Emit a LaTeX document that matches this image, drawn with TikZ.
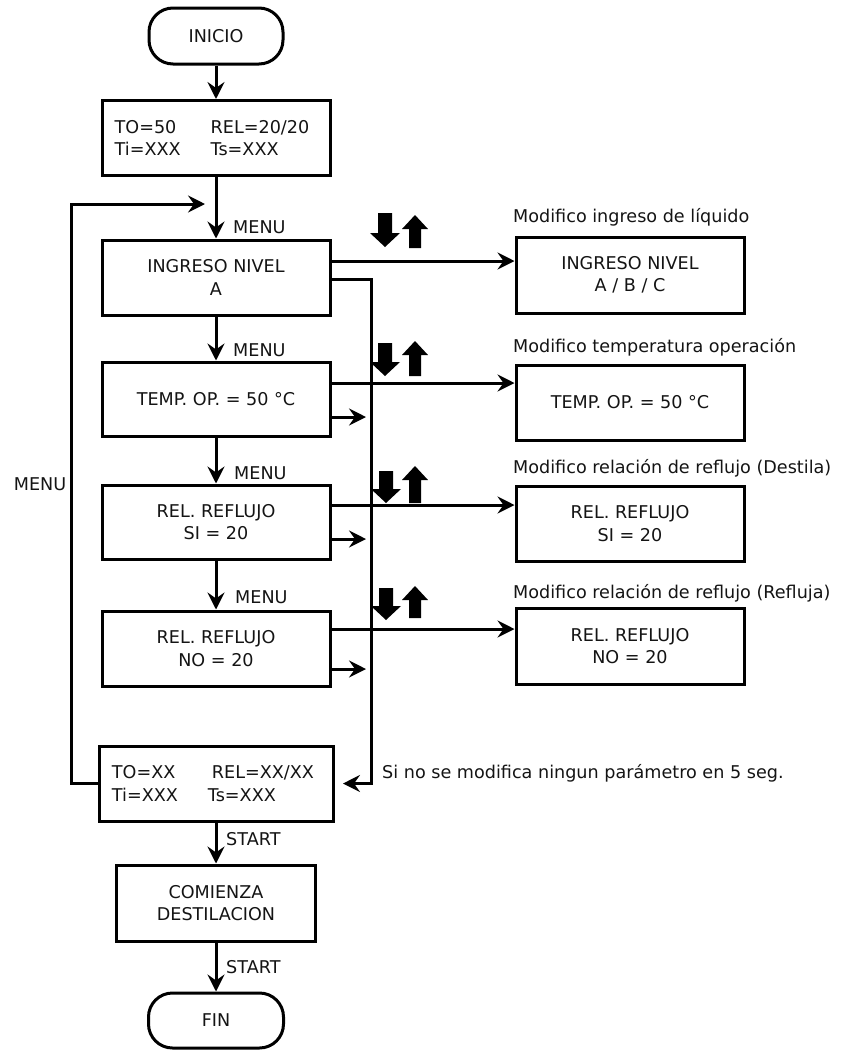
\documentclass[tikz,border=0pt]{standalone}
\usepackage{fontspec}
\setmainfont{DejaVu Sans}
\usetikzlibrary{arrows.meta,calc}
\newcommand{\blkdown}[3]{\fill[black] ({#1-7},#2) -- ({#1+7},#2) -- ({#1+7},{#3-14}) -- ({#1+15},{#3-14}) -- (#1,#3) -- ({#1-15},{#3-14}) -- ({#1-7},{#3-14}) -- cycle;}
\newcommand{\blkup}[3]{\fill[black] (#1,#2) -- ({#1+13},{#2+14}) -- ({#1+6},{#2+14}) -- ({#1+6},#3) -- ({#1-6},#3) -- ({#1-6},{#2+14}) -- ({#1-13},{#2+14}) -- cycle;}
\begin{document}
\begin{tikzpicture}[x=1pt,y=-1pt,
  every node/.style={font=\fontsize{17.6}{22.5}\selectfont, text=black!92},
  box/.style={draw=black, line width=3pt, minimum width=228pt, minimum height=75pt, align=center, inner sep=0pt},
  term/.style={draw=black, line width=3pt, rounded corners=24pt, minimum width=134pt, minimum height=56pt, inner sep=0pt},
  conn/.style={draw=black, line width=3pt, -{Stealth[length=17pt,width=17pt,inset=6pt]}},
  lbl/.style={anchor=base west, inner sep=0pt},
  caplbl/.style={anchor=west, inner sep=0pt},
]
\useasboundingbox (0,0) rectangle (842,1050);

% left column
\node[term] (inicio) at (216,36) {INICIO};
\node[box, align=left] (b1) at (216,138) {\makebox[96pt][l]{TO=50}REL=20/20\hspace*{8pt}\\\makebox[96pt][l]{Ti=XXX}Ts=XXX};
\node[box] (ing) at (216,277.5) {INGRESO NIVEL\\A};
\node[box, minimum height=74pt] (temp) at (216,399) {TEMP. OP. = 50 °C};
\node[box, minimum height=74pt] (si) at (216,522) {REL. REFLUJO\\SI = 20};
\node[box] (no) at (216,648.5) {REL. REFLUJO\\NO = 20};
\node[box, minimum width=234pt, align=left] (ult) at (216,783.5) {\makebox[100pt][l]{TO=XX}REL=XX/XX\hspace*{6pt}\\\makebox[96pt][l]{Ti=XXX}Ts=XXX};
\node[box, minimum width=199pt, minimum height=76pt] (com) at (216,903) {COMIENZA\\DESTILACION};
\node[term, minimum width=135pt, minimum height=55pt] (fin) at (216,1020.5) {FIN};

% right column
\node[box, minimum height=76pt] (ing2) at (630,275) {INGRESO NIVEL\\A / B / C};
\node[box] (temp2) at (630,402.5) {TEMP. OP. = 50 °C};
\node[box] (si2) at (630,523.5) {REL. REFLUJO\\SI = 20};
\node[box, minimum height=76pt] (no2) at (630,646) {REL. REFLUJO\\NO = 20};

% labels
\node[caplbl] (m1) at (233,227) {MENU};
\node[caplbl] (m2) at (233,350) {MENU};
\node[caplbl] (m3) at (234,473) {MENU};
\node[caplbl] (m4) at (235,597) {MENU};
\node (m0) at (40,484) {MENU};
\node[caplbl] (s1) at (226,839) {START};
\node[caplbl] (s2) at (226,967) {START};
\node[lbl] (t1) at (513,222) {Modifico ingreso de líquido};
\node[lbl] (t2) at (513,352) {Modifico temperatura operación};
\node[lbl] (t3) at (513,473) {Modifico relación de reflujo (Destila)};
\node[lbl] (t4) at (513,598) {Modifico relación de reflujo (Refluja)};
\node[lbl] (t5) at (382,778) {Si no se modifica ningun parámetro en 5 seg.};

% main flow
\draw[conn] (inicio.south) -- (b1.north);
\draw[conn] (b1.south) -- (ing.north);
\draw[conn] (ing.south) -- (temp.north);
\draw[conn] (temp.south) -- (si.north);
\draw[conn] (si.south) -- (no.north);
\draw[conn] (ult.south) -- (com.north);
\draw[conn] (com.south) -- (fin.north);

% loop back (MENU)
\coordinate (loopL) at (71,0);
\coordinate (loopTip) at (205,204);
\draw[conn] (ult.west) -- (ult.west -| loopL) |- (loopTip);

% to modification boxes
\coordinate (y1) at (0,261);
\coordinate (y2) at (0,383);
\coordinate (y3) at (0,505);
\coordinate (y4) at (0,629);
\draw[conn] (ing.east |- y1) -- (ing2.west |- y1);
\draw[conn] (temp.east |- y2) -- (temp2.west |- y2);
\draw[conn] (si.east |- y3) -- (si2.west |- y3);
\draw[conn] (no.east |- y4) -- (no2.west |- y4);

% timeout path
\coordinate (yb) at (0,279);
\coordinate (vx) at (371,0);
\coordinate (tipS) at (343,783.5);
\draw[conn] (ing.east |- yb) -| (vx |- tipS) -- (tipS);

% small arrows
\coordinate (a2) at (366,417);
\coordinate (a3) at (366,539);
\coordinate (a4) at (366,669);
\draw[conn] (temp.east |- a2) -- (a2);
\draw[conn] (si.east |- a3) -- (a3);
\draw[conn] (no.east |- a4) -- (a4);

% block arrows
\blkdown{385}{213}{247}\blkup{415}{215}{248}
\blkdown{385}{343}{376}\blkup{415}{341}{376}
\blkdown{386}{471}{503}\blkup{415}{466}{503}
\blkdown{386}{588}{620}\blkup{415}{586}{618}
\end{tikzpicture}
\end{document}
